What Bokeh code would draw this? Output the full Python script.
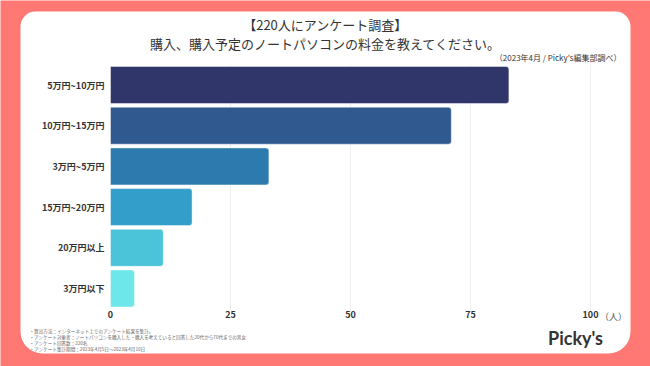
from bokeh.plotting import figure
from bokeh.models import BoxAnnotation, Label, ColumnDataSource, FixedTicker, Range1d, LinearAxis
from bokeh.embed import file_html
from bokeh.resources import INLINE

categories = ["5万円~10万円", "10万円~15万円", "3万円~5万円", "15万円~20万円", "20万円以上", "3万円以下"]
counts = [83, 71, 33, 17, 11, 5]
colors = ["#30356A", "#30598F", "#2D7AAE", "#339EC9", "#4BC3D9", "#6DE7E9"]
x_ticks = [0, 25, 50, 75, 100]
title1 = "【220人にアンケート調査】"
title2 = "購入、購入予定のノートパソコンの料金を教えてください。"
subtitle = "（2023年4月 / Picky's編集部調べ）"
unit = "（人）"
notes = [
    "・算出方法：インターネット上でのアンケート結果を集計。",
    "・アンケート対象者：ノートパソコンを購入した・購入を考えていると回答した20代から70代までの男女",
    "・アンケート回答数：220名",
    "・アンケート集計期間：2023年4月5日〜2023年4月10日",
]
brand = "Picky's"

FONT = "Noto Sans CJK JP"
CORAL = "#FF7873"
W, H = 650, 366

# layout constants (pixels)
X0_PX, PX_PER_UNIT = 110, 4.8
Y0_PX, ROW_PX = 84.5, 40.7

pos = list(range(len(categories)))
src = ColumnDataSource(dict(y=pos, n=counts, color=colors))

x_range = Range1d(-X0_PX / PX_PER_UNIT, (W - X0_PX) / PX_PER_UNIT)
y_range = Range1d((H - Y0_PX) / ROW_PX, -Y0_PX / ROW_PX)

p = figure(width=W, height=H, x_range=x_range, y_range=y_range,
           output_backend="svg", toolbar_location=None, x_axis_location=None, y_axis_location=None,
           min_border=0, min_border_left=0, min_border_right=0, min_border_top=0, min_border_bottom=0)
p.border_fill_color = CORAL
p.background_fill_color = CORAL
p.outline_line_color = None
p.grid.visible = False

panel = BoxAnnotation(left=20, right=630, top=11, bottom=353,
                      left_units="canvas", right_units="canvas", top_units="canvas", bottom_units="canvas",
                      fill_color="white", fill_alpha=1.0, line_color=None,
                      border_radius=(15, 15, 22, 22), level="image")
p.add_layout(panel)

# vertical grid lines from tick values
p.segment(x0=x_ticks[1:], x1=x_ticks[1:], y0=-0.5, y1=len(categories) - 0.45,
          line_color="#EEEEEE", line_width=1)

p.hbar(y="y", right="n", left=0, height=0.91, source=src, fill_color="color",
       line_color="white", line_alpha=0.45, line_width=1, border_radius=(0, 3, 3, 0))

xaxis = LinearAxis(ticker=FixedTicker(ticks=x_ticks), fixed_location=len(categories) - 0.5)
yaxis = LinearAxis(ticker=FixedTicker(ticks=pos), fixed_location=0,
                   major_label_overrides={i: c for i, c in zip(pos, categories)})
for ax in (xaxis, yaxis):
    ax.axis_line_color = None
    ax.major_tick_line_color = None
    ax.minor_tick_line_color = None
    ax.major_tick_out = 0
    ax.major_tick_in = 0
    ax.minor_tick_out = 0
    ax.major_label_text_font = FONT
    ax.major_label_text_font_size = "9px"
    ax.major_label_text_font_style = "bold"
    ax.major_label_text_color = "#333333"
xaxis.major_label_standoff = 2
yaxis.major_label_standoff = 6
p.add_layout(xaxis, "below")
p.add_layout(yaxis, "left")

def lab(x, y, text, size, align="left", style="normal", color="#333333", font=FONT):
    p.add_layout(Label(x=x, y=y, x_units="canvas", y_units="canvas", text=text,
                       text_font=font, text_font_size=size, text_font_style=style,
                       text_color=color, text_align=align, text_baseline="middle"))

lab(325, 24, title1, "13px", align="center")
lab(325, 43, title2, "13px", align="center")
lab(621, 57, subtitle, "8px", align="right")
lab(613, 316, unit, "9px", align="center", color="#555555")
for i, t in enumerate(notes):
    lab(29, 330 + i * 6.2, t, "4.6px", color="#666666")
lab(575, 337, brand, "18px", align="center", style="bold", font="Lato")

open("out.html", "w").write(file_html(p, INLINE))
